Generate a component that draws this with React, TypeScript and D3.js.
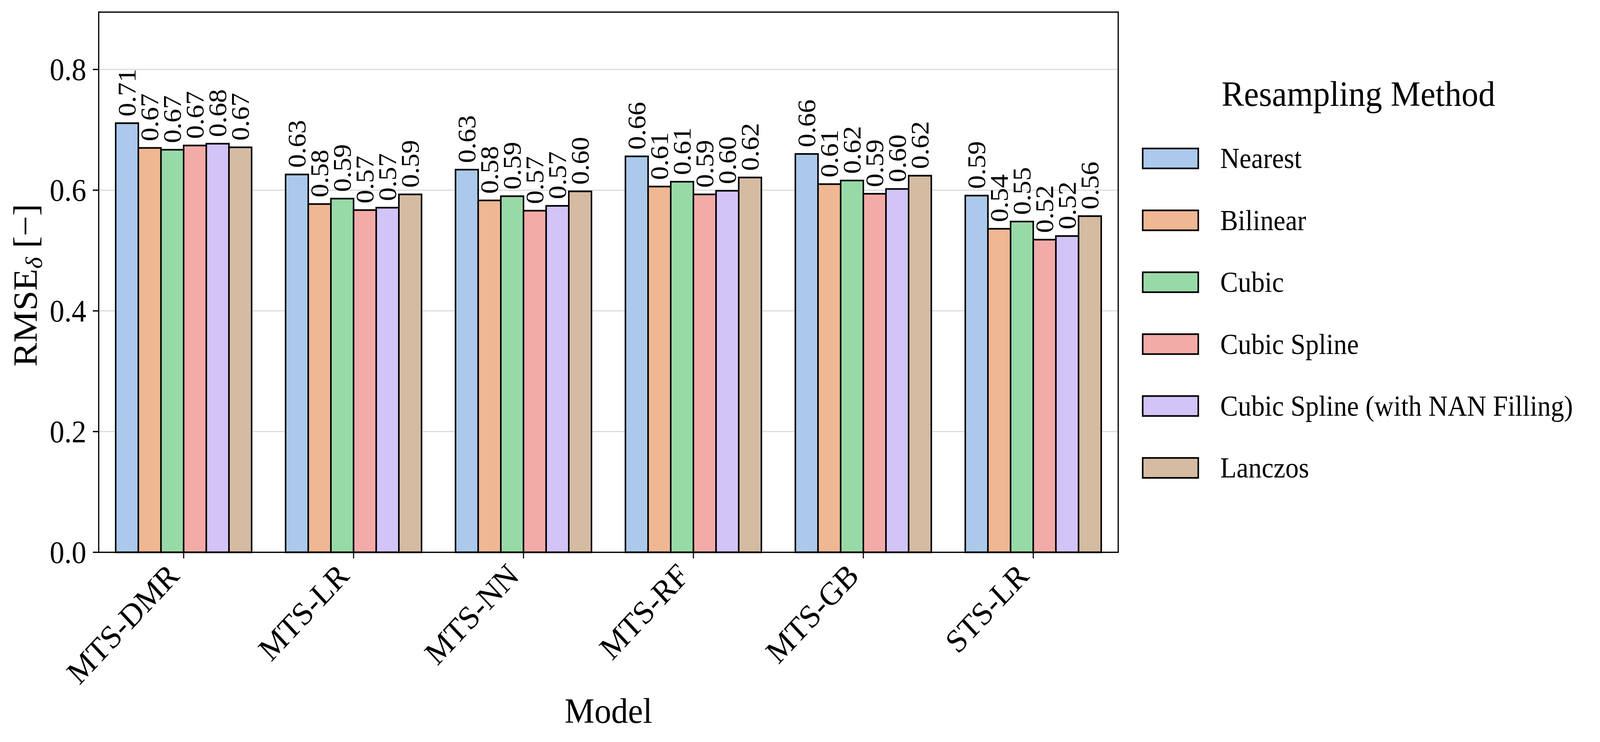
import * as d3 from "d3";

const models = ["MTS-DMR", "MTS-LR", "MTS-NN", "MTS-RF", "MTS-GB", "STS-LR"];
const methods = [
  "Nearest",
  "Bilinear",
  "Cubic",
  "Cubic Spline",
  "Cubic Spline (with NAN Filling)",
  "Lanczos",
];

// RMSE per model, one array per resampling method
const nearest = [0.711, 0.626, 0.634, 0.656, 0.66, 0.591];
const bilinear = [0.67, 0.577, 0.583, 0.606, 0.61, 0.536];
const cubic = [0.667, 0.586, 0.59, 0.614, 0.616, 0.548];
const cubicSpline = [0.674, 0.567, 0.566, 0.593, 0.594, 0.518];
const cubicSplineNan = [0.677, 0.571, 0.574, 0.599, 0.602, 0.524];
const lanczos = [0.671, 0.593, 0.598, 0.621, 0.624, 0.557];
const series = [nearest, bilinear, cubic, cubicSpline, cubicSplineNan, lanczos];

const yTicks = [0, 0.2, 0.4, 0.6, 0.8];

// seaborn "pastel", desaturated like barplot(saturation=0.75)
const pastel = ["#a1c9f4", "#ffb482", "#8de5a1", "#ff9f9b", "#d0bbff", "#debb9b"];
const colors = pastel.map((c) => {
  const h = d3.hsl(c);
  h.s *= 0.75;
  return h.formatHex();
});

const FONT = "'Liberation Serif', 'Times New Roman', serif";

export default function App() {
  const width = 4377;
  const height = 1899;
  const left = 270;
  const right = 3059;
  const top = 31;
  const bottom = 1413.5;

  const x = d3.scaleBand().domain(models).range([left, right]);
  const inner = d3
    .scaleBand()
    .domain(methods)
    .range([-x.bandwidth() * 0.4, x.bandwidth() * 0.4]);
  const y = d3.scaleLinear().domain([0, 0.895]).range([bottom, top]);
  const fmt = d3.format(".2f");

  const legendX = 3126;
  const legendY0 = 405.5;
  const legendStep = 158.4;

  return (
    <svg
      viewBox={`0 0 ${width} ${height}`}
      preserveAspectRatio="none"
      style={{
        position: "fixed",
        left: 0,
        top: 0,
        width: "100vw",
        height: "100vh",
        background: "#fff",
      }}
      fontFamily={FONT}
    >
      <rect x={0} y={0} width={width} height={height} fill="#fff" />

      {/* grid */}
      {yTicks.map((t) => (
        <line
          key={"g" + t}
          x1={left}
          x2={right}
          y1={y(t)}
          y2={y(t)}
          stroke="#d6d6d6"
          strokeWidth={2.5}
        />
      ))}

      {/* bars */}
      {models.map((m, i) => (
        <g key={m} transform={`translate(${x(m)! + x.bandwidth() / 2},0)`}>
          {methods.map((meth, j) => {
            const v = series[j][i];
            return (
              <rect
                key={meth}
                x={inner(meth)}
                y={y(v)}
                width={inner.bandwidth()}
                height={bottom - y(v)}
                fill={colors[j]}
                stroke="#000"
                strokeWidth={4.2}
              />
            );
          })}
          {methods.map((meth, j) => {
            const v = series[j][i];
            const cx = inner(meth)! + inner.bandwidth() / 2;
            return (
              <text
                key={"l" + meth}
                transform={`translate(${cx},${y(v) - 17}) rotate(-90)`}
                dy="0.34em"
                fontSize={70}
                textAnchor="start"
              >
                {fmt(v)}
              </text>
            );
          })}
        </g>
      ))}

      {/* spines */}
      <rect
        x={left}
        y={top}
        width={right - left}
        height={bottom - top}
        fill="none"
        stroke="#000"
        strokeWidth={3.3}
      />

      {/* y axis ticks */}
      {yTicks.map((t) => (
        <g key={"y" + t}>
          <line x1={left - 16} x2={left} y1={y(t)} y2={y(t)} stroke="#000" strokeWidth={3.3} />
          <text x={left - 34} y={y(t)} dy="0.34em" textAnchor="end" fontSize={80}>
            {t.toFixed(1)}
          </text>
        </g>
      ))}

      {/* x axis ticks */}
      {models.map((m) => {
        const cx = x(m)! + x.bandwidth() / 2;
        return (
          <g key={"x" + m}>
            <line x1={cx} x2={cx} y1={bottom} y2={bottom + 15.6} stroke="#000" strokeWidth={3} />
            <text
              transform={`translate(${cx - 8},${1478}) rotate(-45)`}
              textAnchor="end"
              fontSize={84}
            >
              {m}
            </text>
          </g>
        );
      })}

      {/* axis labels */}
      <text x={(left + right) / 2} y={1850} textAnchor="middle" fontSize={92}>
        Model
      </text>
      <text
        transform={`translate(100,730) rotate(-90)`}
        textAnchor="middle"
        fontSize={92}
      >
        RMSE
        <tspan fontStyle="italic" fontSize={64} dy="14">
          δ
        </tspan>
        <tspan dy="-14"> [−]</tspan>
      </text>

      {/* legend */}
      <text x={3716} y={271} textAnchor="middle" fontSize={92}>
        Resampling Method
      </text>
      {methods.map((meth, j) => {
        const cy = legendY0 + j * legendStep;
        return (
          <g key={"lg" + meth}>
            <rect
              x={legendX}
              y={cy - 25.5}
              width={152}
              height={51}
              fill={colors[j]}
              stroke="#000"
              strokeWidth={4.2}
            />
            <text x={3338} y={cy + 25} fontSize={73}>
              {meth}
            </text>
          </g>
        );
      })}
    </svg>
  );
}
